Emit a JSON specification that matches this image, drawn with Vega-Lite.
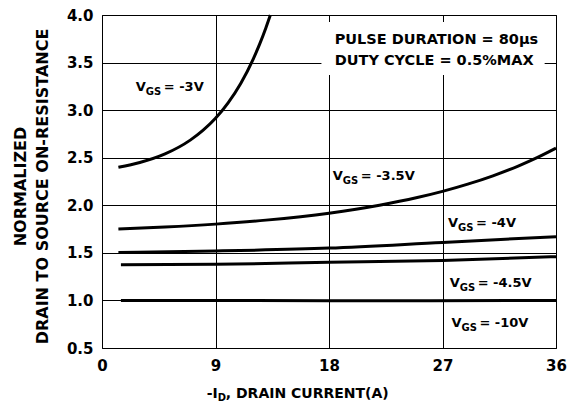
{
  "$schema": "https://vega.github.io/schema/vega-lite/v6.json",
  "width": 454,
  "height": 333,
  "autosize": {"type": "none"},
  "padding": {"left": 102, "top": 15, "right": 20, "bottom": 58},
  "background": "white",
  "config": {
    "view": {"stroke": "#000", "strokeWidth": 1},
    "font": "DejaVu Sans",
    "text": {"font": "DejaVu Sans", "fontWeight": "bold", "color": "#000"}
  },
  "datasets": {
    "curves": [
      {"s": "-3V", "x": 1.3, "y": 2.40},
      {"s": "-3V", "x": 3, "y": 2.45},
      {"s": "-3V", "x": 5, "y": 2.54},
      {"s": "-3V", "x": 7, "y": 2.685},
      {"s": "-3V", "x": 8, "y": 2.787},
      {"s": "-3V", "x": 9, "y": 2.915},
      {"s": "-3V", "x": 10, "y": 3.077},
      {"s": "-3V", "x": 11, "y": 3.281},
      {"s": "-3V", "x": 12, "y": 3.54},
      {"s": "-3V", "x": 12.5, "y": 3.694},
      {"s": "-3V", "x": 13, "y": 3.867},
      {"s": "-3V", "x": 13.35, "y": 4.0},
      {"s": "-3.5V", "x": 1.3, "y": 1.75},
      {"s": "-3.5V", "x": 5, "y": 1.771},
      {"s": "-3.5V", "x": 9, "y": 1.802},
      {"s": "-3.5V", "x": 13, "y": 1.844},
      {"s": "-3.5V", "x": 18, "y": 1.917},
      {"s": "-3.5V", "x": 22, "y": 2.0},
      {"s": "-3.5V", "x": 25, "y": 2.081},
      {"s": "-3.5V", "x": 27, "y": 2.146},
      {"s": "-3.5V", "x": 29, "y": 2.222},
      {"s": "-3.5V", "x": 31, "y": 2.31},
      {"s": "-3.5V", "x": 33, "y": 2.412},
      {"s": "-3.5V", "x": 34.5, "y": 2.50},
      {"s": "-3.5V", "x": 36, "y": 2.60},
      {"s": "-4V", "x": 1.3, "y": 1.505},
      {"s": "-4V", "x": 9, "y": 1.52},
      {"s": "-4V", "x": 18, "y": 1.55},
      {"s": "-4V", "x": 27, "y": 1.61},
      {"s": "-4V", "x": 36, "y": 1.67},
      {"s": "-4.5V", "x": 1.5, "y": 1.375},
      {"s": "-4.5V", "x": 9, "y": 1.38},
      {"s": "-4.5V", "x": 18, "y": 1.40},
      {"s": "-4.5V", "x": 27, "y": 1.42},
      {"s": "-4.5V", "x": 36, "y": 1.46},
      {"s": "-10V", "x": 1.5, "y": 1.0},
      {"s": "-10V", "x": 18, "y": 0.997},
      {"s": "-10V", "x": 36, "y": 1.0}
    ],
    "labels": [
      {"x": 2.68, "y": 3.20, "rest": "= -3V"},
      {"x": 18.3, "y": 2.266, "rest": "= -3.5V"},
      {"x": 27.44, "y": 1.775, "rest": "= -4V"},
      {"x": 27.57, "y": 1.144, "rest": "= -4.5V"},
      {"x": 27.71, "y": 0.724, "rest": "=  -10V"}
    ],
    "note": [
      {"x": 18.45, "y": 3.695, "t": "PULSE DURATION = 80µs"},
      {"x": 18.45, "y": 3.474, "t": "DUTY CYCLE = 0.5%MAX"}
    ],
    "box": [{"x": 17.4, "x2": 35.1, "y": 3.926, "y2": 3.37}],
    "xtitle": [{"x": 8.31, "y": 0.5, "a": "-I", "b": "D", "c": ", DRAIN CURRENT(A)"}]
  },
  "layer": [
    {
      "data": {"name": "box"},
      "mark": {"type": "rect", "fill": "white", "stroke": null},
      "encoding": {
        "x": {
          "field": "x", "type": "quantitative",
          "scale": {"domain": [0, 36], "nice": false, "zero": false},
          "axis": {
            "values": [0, 9, 18, 27, 36],
            "title": null,
            "grid": true, "gridColor": "#000", "gridWidth": 1, "gridOpacity": 1,
            "ticks": false, "domain": false,
            "labelFont": "DejaVu Sans", "labelFontWeight": "bold", "labelFontSize": 15,
            "labelColor": "#000", "labelPadding": 10, "labelFlush": false
          }
        },
        "x2": {"field": "x2"},
        "y": {
          "field": "y", "type": "quantitative",
          "scale": {"domain": [0.5, 4.0], "nice": false, "zero": false},
          "axis": {
            "values": [0.5, 1.0, 1.5, 2.0, 2.5, 3.0, 3.5, 4.0],
            "format": ".1f",
            "grid": true, "gridColor": "#000", "gridWidth": 1, "gridOpacity": 1,
            "ticks": false, "domain": false,
            "labelFont": "DejaVu Sans", "labelFontWeight": "bold", "labelFontSize": 15,
            "labelColor": "#000", "labelPadding": 9,
            "labelFlush": false,
            "title": ["NORMALIZED", "DRAIN TO SOURCE ON-RESISTANCE"],
            "titleFont": "DejaVu Sans", "titleFontWeight": "bold", "titleFontSize": 16,
            "titleColor": "#000", "titleAngle": -90, "titleAlign": "center",
            "titleBaseline": "alphabetic", "titleLineHeight": 22,
            "titleX": -77, "titleY": 171
          }
        },
        "y2": {"field": "y2"}
      }
    },
    {
      "data": {"name": "curves"},
      "mark": {"type": "line", "color": "#000", "strokeWidth": 3, "interpolate": "monotone"},
      "encoding": {
        "x": {"field": "x", "type": "quantitative"},
        "y": {"field": "y", "type": "quantitative"},
        "detail": {"field": "s"}
      }
    },
    {
      "data": {"name": "labels"},
      "mark": {"type": "text", "align": "left", "baseline": "alphabetic", "fontSize": 13},
      "encoding": {
        "x": {"field": "x", "type": "quantitative"},
        "y": {"field": "y", "type": "quantitative"},
        "text": {"value": "V"}
      }
    },
    {
      "data": {"name": "labels"},
      "mark": {"type": "text", "align": "left", "baseline": "alphabetic", "fontSize": 10, "dx": 10, "dy": 4},
      "encoding": {
        "x": {"field": "x", "type": "quantitative"},
        "y": {"field": "y", "type": "quantitative"},
        "text": {"value": "GS"}
      }
    },
    {
      "data": {"name": "labels"},
      "mark": {"type": "text", "align": "left", "baseline": "alphabetic", "fontSize": 13, "dx": 28},
      "encoding": {
        "x": {"field": "x", "type": "quantitative"},
        "y": {"field": "y", "type": "quantitative"},
        "text": {"field": "rest"}
      }
    },
    {
      "data": {"name": "note"},
      "mark": {"type": "text", "align": "left", "baseline": "alphabetic", "fontSize": 14.5},
      "encoding": {
        "x": {"field": "x", "type": "quantitative"},
        "y": {"field": "y", "type": "quantitative"},
        "text": {"field": "t"}
      }
    },
    {
      "data": {"name": "xtitle"},
      "mark": {"type": "text", "align": "left", "baseline": "alphabetic", "fontSize": 14, "dy": 50},
      "encoding": {
        "x": {"field": "x", "type": "quantitative"},
        "y": {"field": "y", "type": "quantitative"},
        "text": {"field": "a"}
      }
    },
    {
      "data": {"name": "xtitle"},
      "mark": {"type": "text", "align": "left", "baseline": "alphabetic", "fontSize": 10, "dx": 11, "dy": 53},
      "encoding": {
        "x": {"field": "x", "type": "quantitative"},
        "y": {"field": "y", "type": "quantitative"},
        "text": {"field": "b"}
      }
    },
    {
      "data": {"name": "xtitle"},
      "mark": {"type": "text", "align": "left", "baseline": "alphabetic", "fontSize": 14, "dx": 19, "dy": 50},
      "encoding": {
        "x": {"field": "x", "type": "quantitative"},
        "y": {"field": "y", "type": "quantitative"},
        "text": {"field": "c"}
      }
    }
  ]
}
